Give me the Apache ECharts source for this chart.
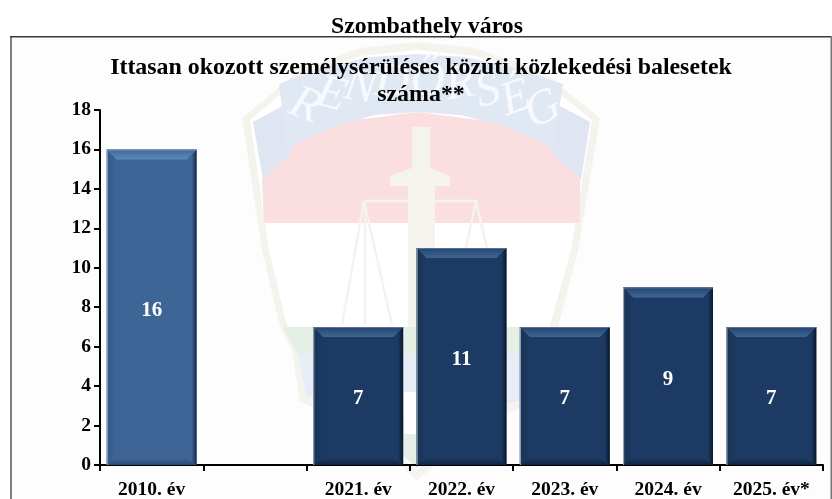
<!DOCTYPE html>
<html><head><meta charset="utf-8">
<style>html,body{margin:0;padding:0;background:#fff}#c{width:832px;height:499px}</style>
<script src="https://cdn.jsdelivr.net/npm/echarts@6/dist/echarts.min.js"></script>
</head><body><div id="c"></div>
<script>
const categories = ['2010. év', '', '2021. év', '2022. év', '2023. év', '2024. év', '2025. év*'];
const values = [16, null, 7, 11, 7, 9, 7];
const yTicks = {min: 0, max: 18, interval: 2};
const pageTitle = 'Szombathely város';
const chartTitle = 'Ittasan okozott személysérüléses közúti közlekedési balesetek\nszáma**';
const FONT = '"Liberation Serif","Times New Roman",serif';
const BAR_RATIO = 0.87;

const chart = echarts.init(document.getElementById('c'), null, {renderer: 'canvas'});

function bevel(params, api) {
  const v = api.value(1);
  if (v == null || isNaN(v)) return null;
  const i = api.value(0);
  const top = api.coord([i, v]), base = api.coord([i, 0]);
  const w = api.size([1, 0])[0] * BAR_RATIO;
  const x0 = top[0] - w / 2, x1 = top[0] + w / 2, y0 = top[1], y1 = base[1];
  const d = 10, b = 7;
  const light = i === 0;
  const main = light ? '#3d6697' : '#1c3a64';
  const lin = (x, y, x2, y2, stops) => ({type: 'linear', x, y, x2, y2,
    colorStops: stops.map((c, k) => ({offset: k / (stops.length - 1), color: c}))});
  return {type: 'group', silent: true, children: [
    {type: 'polygon', shape: {points: [[x0, y0], [x0 + d, y0 + d], [x0 + d, y1 - b], [x0, y1]]},
      style: {fill: lin(0, 0, 1, 0, [light ? '#34598a' : '#183354', main])}},
    {type: 'polygon', shape: {points: [[x1, y0], [x1 - d, y0 + d], [x1 - d, y1 - b], [x1, y1]]},
      style: {fill: lin(0, 0, 1, 0, [main, main, light ? '#16294a' : '#0a1628'])}},
    {type: 'polygon', shape: {points: [[x0, y0], [x1, y0], [x1 - d, y0 + d], [x0 + d, y0 + d]]},
      style: {fill: lin(0, 0, 0, 1, [light ? '#41699b' : '#234571', light ? '#5e88bb' : '#3f6694'])}},
    {type: 'polygon', shape: {points: [[x0, y1], [x1, y1], [x1 - d, y1 - b], [x0 + d, y1 - b]]},
      style: {fill: lin(0, 1, 0, 0, [light ? '#2b4b75' : '#10233d', main])}},
    {type: 'rect', shape: {x: x0, y: y0, width: 1, height: y1 - y0}, style: {fill: '#a9b4c2'}},
    {type: 'rect', shape: {x: x0, y: y0, width: x1 - x0, height: 1}, style: {fill: light ? '#7f93ad' : '#5a6f8b'}}
  ]};
}

const poly = (points, fill, z) => ({type: 'polygon', silent: true, z: z - 30, shape: {points}, style: {fill}});
const line = (points, stroke, lw, z) => ({type: 'polyline', silent: true, z: z - 30, shape: {points}, style: {stroke, lineWidth: lw, fill: null}});
const BEIGE = '#f5f3ed', BLUE = '#dfe6f1', RED = '#fbdfe0', GREEN = '#e4efe6', PALE = '#e0e8f3';

const letter = (ch, x, y, deg) => ({type: 'text', silent: true, z: -22, x, y, rotation: -deg * Math.PI / 180,
  style: {text: ch, fill: '#f7f9fc', font: 'italic 48px ' + FONT, align: 'center', verticalAlign: 'middle'}});

const emblem = [
  poly([[242,118],[300,70],[360,48],[417,42],[475,48],[540,70],[600,118],[578,250],[558,327],[548,350],[538,402],[490,420],[417,480],[345,420],[300,402],[292,350],[280,327],[262,250]], BEIGE, 1),
  poly([[250,120],[300,78],[360,56],[417,50],[475,56],[540,78],[592,120],[571,250],[551,322],[540,350],[530,396],[485,414],[417,470],[350,414],[306,396],[298,350],[286,322],[269,250]], '#ffffff', 1.5),
  poly([[262,180],[290,140],[340,122],[417,112],[495,122],[550,140],[580,180],[580,223],[264,223]], RED, 2),
  poly([[253,122],[284,105],[292,152],[263,180]], BLUE, 3),
  poly([[590,122],[558,105],[550,152],[581,180]], BLUE, 3),
  poly([[279,84],[320,68],[370,57],[417,54],[465,57],[515,68],[563,84],[553,148],[505,126],[460,115],[417,112],[375,115],[335,126],[287,148]], PALE, 4),
  poly([[412,127],[430,127],[430,168],[450,176],[450,186],[435,186],[435,327],[408,327],[408,186],[390,186],[390,176],[412,168]], BEIGE, 5),
  line([[365,201],[478,201]], BEIGE, 2.5, 5),
  line([[364,201],[342,325]], BEIGE, 2.5, 5),
  line([[364,201],[392,325]], BEIGE, 2.5, 5),
  line([[365,201],[365,325]], BEIGE, 2.5, 5),
  line([[476,201],[449,325]], BEIGE, 2.5, 5),
  line([[476,201],[505,325]], BEIGE, 2.5, 5),
  poly([[283,327],[552,327],[545,355],[298,355]], GREEN, 3),
  poly([[298,354],[540,354],[532,396],[485,412],[350,412],[306,396]], '#e6edf7', 3.5),
  poly([[350,412],[485,412],[417,468]], GREEN, 3.5),
  {type: 'rect', silent: true, z: -24, shape: {x: 404, y: 392, width: 12, height: 42}, style: {fill: '#ffffff'}},
  letter('R', 305, 106, 22), letter('E', 331, 95, 15), letter('N', 360, 88, 9), letter('D', 392, 83, 3),
  letter('Ő', 428, 82, -3), letter('R', 460, 85, -9), letter('S', 488, 92, -15), letter('É', 516, 99, -19), letter('G', 543, 110, -25)
];

chart.setOption({
  animation: false,
  backgroundColor: '#ffffff',
  textStyle: {fontFamily: FONT},
  title: [
    {text: pageTitle, left: 422, top: 10, textAlign: 'center',
      textStyle: {fontFamily: FONT, fontSize: 23.8, fontWeight: 'bold', color: '#000', lineHeight: 24}},
    {text: chartTitle, left: 416, top: 49, textAlign: 'center',
      textStyle: {fontFamily: FONT, fontSize: 23.9, fontWeight: 'bold', color: '#000', lineHeight: 27}}
  ],
  graphic: [
    {type: 'rect', silent: true, z: -40, shape: {x: 11, y: 36, width: 820, height: 470}, style: {fill: '#fdfdfd'}},
    ...emblem,
    {type: 'rect', silent: true, z: -20, shape: {x: 10, y: 36, width: 2, height: 470}, style: {fill: '#808080'}},
    {type: 'rect', silent: true, z: -20, shape: {x: 10, y: 36, width: 822, height: 1.5}, style: {fill: '#3a3a3a'}},
    {type: 'rect', silent: true, z: -20, shape: {x: 830.5, y: 36, width: 1.5, height: 470}, style: {fill: '#777777'}}
  ],
  grid: {left: 100, right: 9, top: 110, bottom: 34, outerBoundsMode: 'none'},
  xAxis: {
    type: 'category', data: categories,
    axisLine: {lineStyle: {color: '#000', width: 2}},
    axisTick: {show: true, alignWithLabel: false, length: 6, lineStyle: {color: '#000', width: 2}},
    axisLabel: {interval: 0, color: '#000', fontFamily: FONT, fontSize: 19.5, fontWeight: 'bold', margin: 15},
    splitLine: {show: false}
  },
  yAxis: {
    type: 'value', min: yTicks.min, max: yTicks.max, interval: yTicks.interval,
    axisLine: {show: true, lineStyle: {color: '#000', width: 2}},
    axisTick: {show: true, length: 6, lineStyle: {color: '#000', width: 2}},
    axisLabel: {color: '#000', fontFamily: FONT, fontSize: 19.5, fontWeight: 'bold', margin: 9},
    splitLine: {show: false}
  },
  series: [
    {type: 'bar', name: 'balesetek', z: 2, barWidth: (BAR_RATIO * 100) + '%',
      data: values.map((v, i) => ({value: v, itemStyle: {color: i === 0 ? '#3d6697' : '#1c3a64'}})),
      label: {show: true, position: 'inside', color: '#fff', fontFamily: FONT, fontSize: 21, fontWeight: 'bold', offset: [0, 3]}},
    {type: 'custom', z: 3, silent: true, renderItem: bevel, encode: {x: 0, y: 1},
      data: values.map((v, i) => [i, v]).filter(d => d[1] != null)}
  ]
});
</script></body></html>
